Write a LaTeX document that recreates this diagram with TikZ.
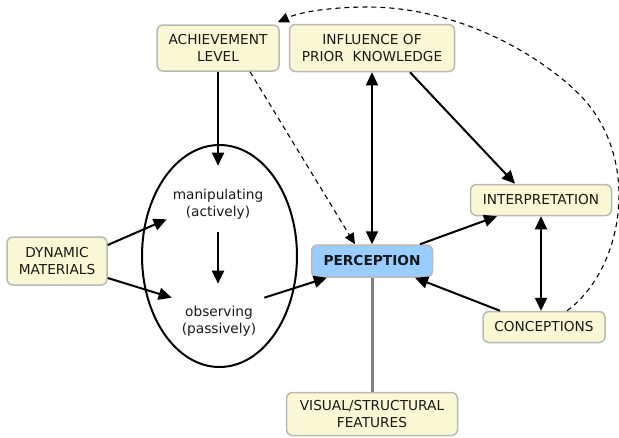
\documentclass[tikz,border=0pt]{standalone}
\usepackage{fontspec}
\setmainfont{DejaVu Sans}
\usetikzlibrary{arrows.meta}
\definecolor{boxyellow}{RGB}{250,247,212}
\definecolor{percblue}{RGB}{153,204,255}
\definecolor{frame}{RGB}{185,185,185}

\begin{document}
\begin{tikzpicture}[>={Triangle[length=13pt,width=12pt]},x=1pt,y=-1pt,
	box/.style={draw=frame,line width=1.5pt,fill=boxyellow,rounded corners=6pt,inner sep=0pt,align=center,text=black!90,font=\fontsize{13.7}{17}\selectfont},
	txt/.style={inner sep=0pt,align=center,text=black!90,font=\fontsize{13.7}{17}\selectfont},
	arr/.style={->,line width=2pt},
	dasharr/.style={-{Triangle[length=11pt,width=10pt]},line width=1.1pt,dash pattern=on 5pt off 4pt}]
	\useasboundingbox (0,0) rectangle (619,437);
	% boxes
	\node[box,minimum width=122pt,minimum height=46pt] (ach) at (218,48) {ACHIEVEMENT\\LEVEL};
	\node[box,minimum width=165pt,minimum height=47pt] (inf) at (372,48) {INFLUENCE OF\\PRIOR\ \ KNOWLEDGE};
	\node[box,minimum width=100pt,minimum height=48pt] (dyn) at (57,261) {DYNAMIC\\MATERIALS};
	\node[box,fill=percblue,minimum width=121pt,minimum height=32pt,font=\fontsize{13.7}{17}\selectfont\bfseries] (perc) at (372,261) {PERCEPTION};
	\node[box,minimum width=141pt,minimum height=31pt] (interp) at (541,200) {INTERPRETATION};
	\node[box,minimum width=122pt,minimum height=31pt] (conc) at (544,327) {CONCEPTIONS};
	\node[box,minimum width=171pt,minimum height=43pt] (vis) at (372,414) {VISUAL/STRUCTURAL\\FEATURES};
	% the ellipse with its two modes
	\draw[line width=2pt] (219.5,256) ellipse [x radius=77.5pt,y radius=111pt];
	\node[txt] (manip) at (218,204) {manipulating\\(actively)};
	\node[txt] (obs) at (219,321) {observing\\(passively)};
	% connectors
	\draw[arr] (ach) -- ([yshift=23pt]manip.north);
	\draw[arr,shorten <=13pt,shorten >=22pt] (manip.south) -- (manip.south |- obs.north);
	\draw[arr] ([yshift=16pt]dyn.east) -- ([xshift=-6pt]manip.south west);
	\draw[arr] ([yshift=-17pt]dyn.east) -- ([xshift=-10pt,yshift=8pt]obs.north west);
	\draw[arr] ([xshift=8pt,yshift=8pt]obs.north east) -- ([xshift=16pt]perc.south west);
	\draw[dasharr] ([xshift=32pt]ach.south) -- ([xshift=-17pt]perc.north);
	\draw[arr,<->] (inf) -- (perc);
	\draw[arr] ([xshift=38pt]inf.south) -- ([xshift=-26pt]interp.north);
	\draw[arr] ([xshift=48pt]perc.north) -- ([xshift=-44pt]interp.south);
	\draw[arr] ([xshift=-44pt]conc.north) -- ([xshift=43pt]perc.south);
	\draw[arr,<->] (interp.south) -- (interp.south |- conc.north);
	\draw[line width=3pt,gray] (perc) -- (vis);
	\draw[dasharr] ([xshift=23pt]conc.north) .. controls (623,270) and (643,160) .. (580,95)
		.. controls (540,55) and (460,8) .. (370,7)
		.. controls (330,7) and (300,12) .. ([xshift=-2pt,yshift=2pt]ach.north east);
\end{tikzpicture}
\end{document}
